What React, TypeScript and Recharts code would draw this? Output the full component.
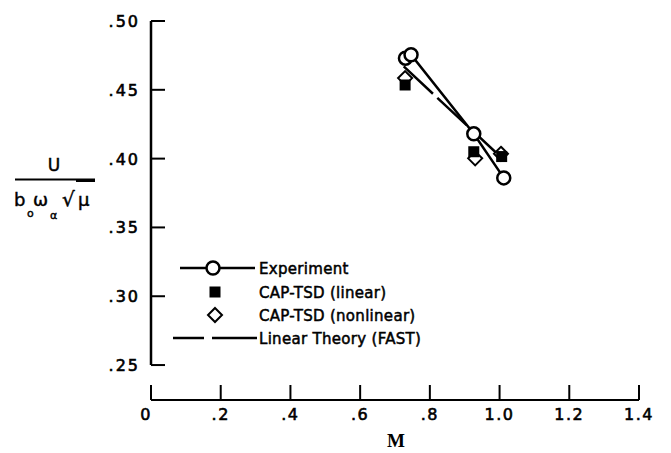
import React from 'react';
import { ScatterChart, Scatter, XAxis, YAxis, ReferenceLine, Legend } from 'recharts';

// Axis ticks and their printed labels
const machTicks = [0, 0.2, 0.4, 0.6, 0.8, 1.0, 1.2, 1.4];
const machTickLabels = ['0', '.2', '.4', '.6', '.8', '1.0', '1.2', '1.4'];
const speedTicks = [0.25, 0.3, 0.35, 0.4, 0.45, 0.5];
const speedTickLabels = ['.25', '.30', '.35', '.40', '.45', '.50'];

// Flutter speed index vs Mach number
const experimentM = [0.73, 0.746, 0.926, 1.012];
const experimentU = [0.473, 0.4755, 0.418, 0.386];

const capLinearM = [0.729, 0.926, 1.006];
const capLinearU = [0.4535, 0.405, 0.4015];

const capNonlinearM = [0.729, 0.93, 1.004];
const capNonlinearU = [0.4585, 0.4002, 0.4035];

const fastM = [0.725, 1.004];
const fastU = [0.467, 0.401];

const toPoints = (ms: number[], us: number[]) => ms.map((m, i) => ({ m, u: us[i] }));

const experimentData = toPoints(experimentM, experimentU);
const capLinearData = toPoints(capLinearM, capLinearU);
const capNonlinearData = toPoints(capNonlinearM, capNonlinearU);
const fastData = toPoints(fastM, fastU);

const W = 671;
const H = 453;
// lower bound leaves room for the detached Mach axis below .25
const U_MIN = 0.2246;
const U_MAX = 0.5;

const FONT = '"DejaVu Sans", sans-serif';

const findIdx = (arr: number[], v: number) => arr.findIndex((t) => Math.abs(t - v) < 1e-9);

const SpeedTick = (props: any) => {
  const { x, y, payload } = props;
  const i = findIdx(speedTicks, payload.value);
  return (
    <g>
      <line x1={x} x2={x + 14} y1={y} y2={y} stroke="#000" strokeWidth={2} />
      <text
        x={x - 11}
        y={y}
        dy={6}
        textAnchor="end"
        fontFamily={FONT}
        fontSize={16}
        letterSpacing={2}
        fill="#000"
        stroke="#000"
        strokeWidth={0.6}
      >
        {speedTickLabels[i]}
      </text>
    </g>
  );
};

const MachTick = (props: any) => {
  const { x, y, payload } = props;
  const i = findIdx(machTicks, payload.value);
  return (
    <g>
      <line x1={x} x2={x} y1={y} y2={y - 15} stroke="#000" strokeWidth={2} />
      <text
        x={i === 0 ? x - 5 : x}
        y={y + 20}
        textAnchor="middle"
        fontFamily={FONT}
        fontSize={16}
        letterSpacing={1.5}
        fill="#000"
        stroke="#000"
        strokeWidth={0.6}
      >
        {machTickLabels[i]}
      </text>
    </g>
  );
};

const OpenCircle = (p: any) => (
  <circle cx={p.cx} cy={p.cy} r={6.5} fill="#fff" stroke="#000" strokeWidth={2.5} />
);
const FilledSquare = (p: any) => (
  <rect x={p.cx - 5.5} y={p.cy - 5.5} width={11} height={11} fill="#000" />
);
const OpenDiamond = (p: any) => (
  <path
    d={`M${p.cx},${p.cy - 7} L${p.cx + 7},${p.cy} L${p.cx},${p.cy + 7} L${p.cx - 7},${p.cy} Z`}
    fill="#fff"
    stroke="#000"
    strokeWidth={2}
  />
);
const NoMarker = () => <g />;

const legendText = {
  fontFamily: FONT,
  fontSize: 15,
  fill: '#000',
  stroke: '#000',
  strokeWidth: 0.5,
  letterSpacing: 0.3,
} as const;

const LegendBox = () => (
  <svg width={260} height={96}>
    <line x1={12} x2={87} y1={13} y2={13} stroke="#000" strokeWidth={2.5} />
    <circle cx={45} cy={13} r={6.5} fill="#fff" stroke="#000" strokeWidth={2.5} />
    <text x={91} y={18.5} {...legendText}>Experiment</text>

    <rect x={41.5} y={31.5} width={11} height={11} fill="#000" />
    <text x={91} y={42.5} {...legendText}>CAP-TSD (linear)</text>

    <path d="M47,53 L54,60 L47,67 L40,60 Z" fill="#fff" stroke="#000" strokeWidth={2} />
    <text x={91} y={65.5} {...legendText}>CAP-TSD (nonlinear)</text>

    <line x1={5} x2={36} y1={83} y2={83} stroke="#000" strokeWidth={2.5} />
    <line x1={44} x2={89} y1={83} y2={83} stroke="#000" strokeWidth={2.5} />
    <text x={91} y={88.5} {...legendText}>Linear Theory (FAST)</text>
  </svg>
);

const titleText = {
  fontFamily: FONT,
  fill: '#000',
  stroke: '#000',
  strokeWidth: 0.45,
} as const;

const AxisTitles = () => (
  <svg
    width={W}
    height={H}
    style={{ position: 'absolute', left: 0, top: 0, pointerEvents: 'none' }}
  >
    {/* U / (b_o ω_α √μ) */}
    <text x={54} y={171} textAnchor="middle" fontSize={17} {...titleText}>
      U
    </text>
    <line x1={15} x2={95} y1={179.5} y2={179.5} stroke="#000" strokeWidth={2} />
    <line x1={76} x2={95} y1={180.5} y2={180.5} stroke="#000" strokeWidth={3} />
    <text x={14} y={206} fontSize={18} {...titleText}>
      b
    </text>
    <text x={27} y={217} fontSize={11} {...titleText}>
      o
    </text>
    <text x={33} y={206} fontSize={18} {...titleText}>
      ω
    </text>
    <text x={50} y={219} fontSize={11} {...titleText}>
      α
    </text>
    <text x={62} y={206} fontSize={20} {...titleText}>
      √
    </text>
    <text x={78} y={206} fontSize={18} {...titleText}>
      μ
    </text>

    {/* Mach number */}
    <text
      x={396}
      y={447}
      textAnchor="middle"
      fontFamily='"Liberation Serif", serif'
      fontWeight="bold"
      fontSize={19}
      fill="#000"
    >
      M
    </text>
  </svg>
);

export default function App() {
  return (
    <div style={{ position: 'absolute', left: 0, top: 0, width: W, height: H, background: '#fff' }}>
      <ScatterChart width={W} height={H} margin={{ top: 21, right: 32, bottom: 23, left: 91 }}>
        <XAxis
          type="number"
          dataKey="m"
          domain={[0, 1.4]}
          ticks={machTicks}
          interval={0}
          allowDataOverflow
          height={30}
          tickSize={0}
          tickMargin={0}
          tickLine={false}
          axisLine={{ stroke: '#000', strokeWidth: 2 }}
          tick={<MachTick />}
        />
        <YAxis
          type="number"
          dataKey="u"
          domain={[U_MIN, U_MAX]}
          ticks={speedTicks}
          interval={0}
          allowDataOverflow
          width={60}
          tickSize={0}
          tickMargin={0}
          tickLine={false}
          axisLine={false}
          tick={<SpeedTick />}
        />
        <ReferenceLine
          segment={[
            { x: 0, y: 0.25 },
            { x: 0, y: 0.5 },
          ]}
          stroke="#000"
          strokeWidth={2.5}
          ifOverflow="visible"
        />
        <Scatter
          name="Linear Theory (FAST)"
          data={fastData}
          line={{ stroke: '#000', strokeWidth: 2.5, strokeDasharray: '40 6' }}
          shape={<NoMarker />}
          isAnimationActive={false}
        />
        <Scatter
          name="Experiment"
          data={experimentData}
          line={{ stroke: '#000', strokeWidth: 2.5 }}
          shape={<OpenCircle />}
          isAnimationActive={false}
        />
        <Scatter
          name="CAP-TSD (nonlinear)"
          data={capNonlinearData}
          shape={<OpenDiamond />}
          isAnimationActive={false}
        />
        <Scatter
          name="CAP-TSD (linear)"
          data={capLinearData}
          shape={<FilledSquare />}
          isAnimationActive={false}
        />
        <Legend
          layout="vertical"
          align="center"
          verticalAlign="middle"
          content={<LegendBox />}
          wrapperStyle={{ position: 'absolute', left: 168, top: 255, width: 260, height: 96 }}
        />
      </ScatterChart>
      <AxisTitles />
    </div>
  );
}
